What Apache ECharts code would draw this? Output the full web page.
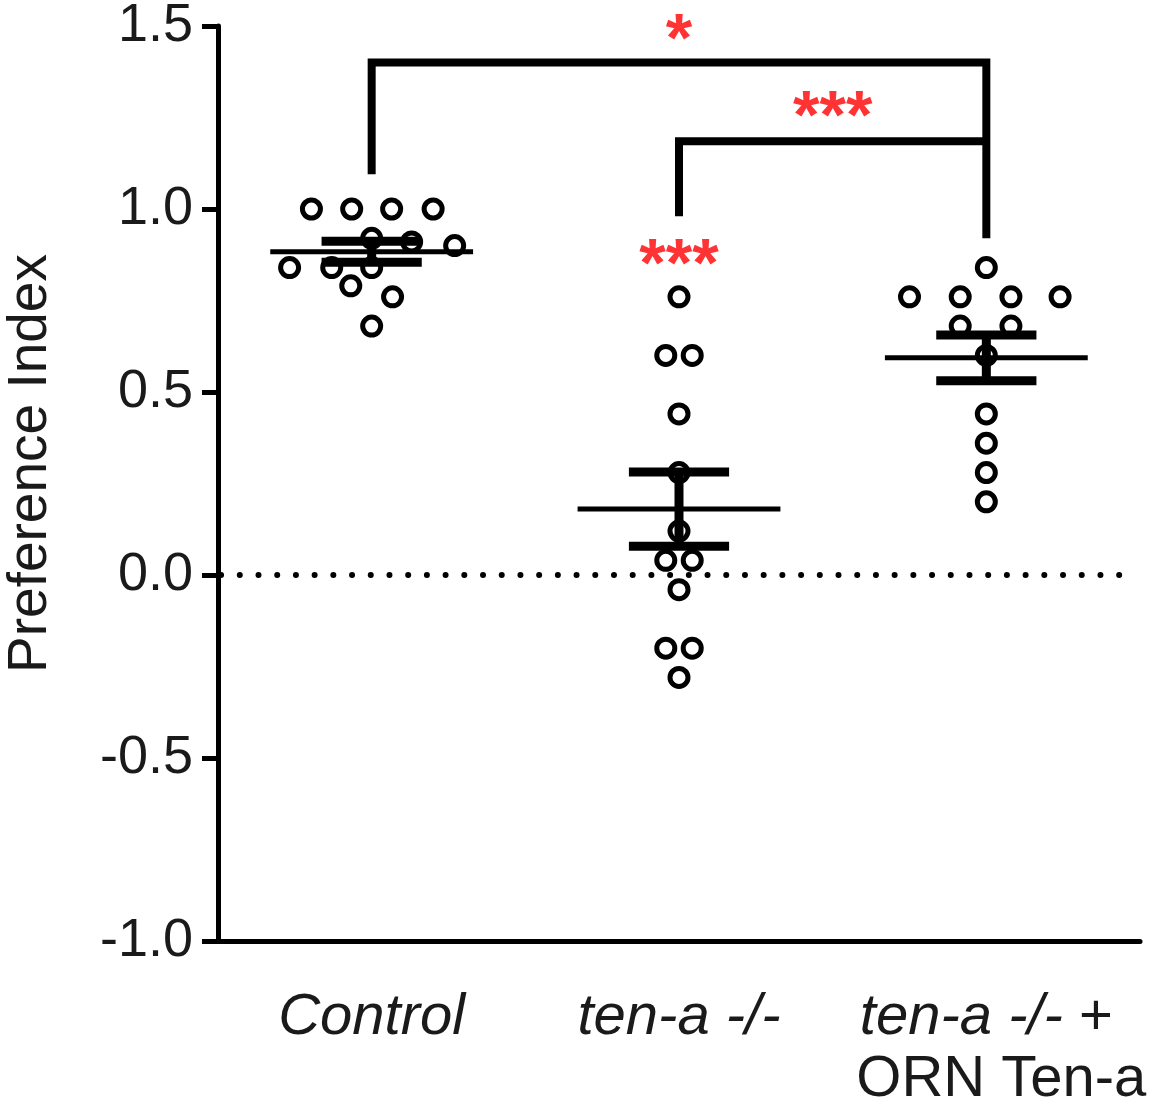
<!DOCTYPE html>
<html>
<head>
<meta charset="utf-8">
<script src="https://cdn.jsdelivr.net/npm/echarts@6/dist/echarts.min.js"></script>
<style>
  html, body { margin: 0; padding: 0; background: #fff; }
  #chart { width: 1149px; height: 1110px; }
</style>
</head>
<body>
<div id="chart"></div>
<script>
// group names on the x axis
var categories = ['Control', 'ten-a -/-', 'ten-a -/- + ORN Ten-a'];

// preference index of each trial, with the horizontal spread of the dots (x units)
var controlPI = [1.0, 1.0, 1.0, 1.0, 0.92, 0.91, 0.90, 0.84, 0.84, 0.84, 0.79, 0.76, 0.68];
var controlX  = [-0.196, -0.065, 0.065, 0.2, 0, 0.13, 0.27, -0.267, -0.13, 0, -0.068, 0.068, 0];
var tenaPI    = [0.76, 0.6, 0.6, 0.44, 0.28, 0.12, 0.04, 0.04, -0.04, -0.2, -0.2, -0.28];
var tenaX     = [0, -0.043, 0.043, 0, 0, 0, -0.043, 0.043, 0, -0.043, 0.043, 0];
var rescuePI  = [0.84, 0.76, 0.76, 0.76, 0.76, 0.68, 0.68, 0.6, 0.44, 0.36, 0.28, 0.2];
var rescueX   = [0, -0.25, -0.085, 0.08, 0.24, -0.085, 0.08, 0, 0, 0, 0, 0];

// significance brackets [group, PI]
var bracketOuter = [[0, 1.095], [0, 1.40], [2, 1.40], [2, 0.92]];
var bracketInner = [[1, 0.98], [1, 1.185], [2, 1.185]];
// significance stars [group, PI, text]
var stars = [[1, 1.455, '*'], [1.5, 1.245, '***'], [1, 0.84, '***']];

var FONT = '"Liberation Sans", Arial, sans-serif';

function stats(arr) {
    var n = arr.length, sum = 0, i;
    for (i = 0; i < n; i++) sum += arr[i];
    var mean = sum / n, ss = 0;
    for (i = 0; i < n; i++) ss += (arr[i] - mean) * (arr[i] - mean);
    return [mean, Math.sqrt(ss / (n - 1)) / Math.sqrt(n)];
}

function dots(pi, xs, g) {
    var out = [];
    for (var i = 0; i < pi.length; i++) out.push([g + xs[i], pi[i]]);
    return out;
}

var groups = [controlPI, tenaPI, rescuePI];
var errData = groups.map(function (arr, g) {
    var s = stats(arr);
    return [g, s[0], s[1]];
});

var chart = echarts.init(document.getElementById('chart'));

var option = {
    animation: false,
    backgroundColor: '#fff',
    grid: { left: 218, right: 9, top: 26, bottom: 169, containLabel: false, outerBoundsMode: 'none' },
    xAxis: [
        {
            type: 'category',
            data: categories,
            boundaryGap: true,
            axisLine: { onZero: false, lineStyle: { color: '#000', width: 5 } },
            axisTick: { show: false },
            axisLabel: {
                interval: 0,
                margin: 46,
                color: '#1a1a1a',
                fontFamily: FONT,
                fontSize: 58,
                lineHeight: 62,
                formatter: function (v, i) {
                    if (i === 2) return '{i|ten-a -/-}{n| +}\n{p|ORN Ten-a}';
                    return '{i|' + v + '}';
                },
                rich: {
                    i: { fontStyle: 'italic', fontFamily: FONT, fontSize: 58, lineHeight: 62, color: '#1a1a1a' },
                    n: { fontFamily: FONT, fontSize: 58, lineHeight: 62, color: '#1a1a1a' },
                    p: { fontFamily: FONT, fontSize: 58, lineHeight: 62, color: '#1a1a1a', padding: [0, 0, 0, 30] }
                }
            }
        },
        {
            type: 'value',
            min: -0.5,
            max: 2.5,
            show: false
        }
    ],
    yAxis: {
        type: 'value',
        min: -1,
        max: 1.5,
        interval: 0.5,
        name: 'Preference Index',
        nameLocation: 'middle',
        nameRotate: 90,
        nameGap: 160,
        nameTextStyle: { fontFamily: FONT, fontSize: 55, color: '#1a1a1a', padding: [0, 0, 0, 40] },
        splitLine: { show: false },
        axisLine: { show: true, onZero: false, lineStyle: { color: '#000', width: 5 } },
        axisTick: { show: true, length: 16, lineStyle: { color: '#000', width: 5 } },
        axisLabel: {
            margin: 25,
            color: '#1a1a1a',
            fontFamily: FONT,
            fontSize: 54,
            formatter: function (v) { return v.toFixed(1); }
        }
    },
    series: [
        {
            // dotted zero line
            type: 'line',
            xAxisIndex: 1,
            data: [[-0.49, 0], [2.46, 0]],
            symbol: 'none',
            lineStyle: { color: '#000', width: 6, type: [0.01, 18.7], cap: 'round' },
            z: 1
        },
        {
            type: 'line',
            xAxisIndex: 1,
            data: bracketOuter,
            symbol: 'none',
            lineStyle: { color: '#000', width: 8, join: 'miter', cap: 'butt' },
            z: 2
        },
        {
            type: 'line',
            xAxisIndex: 1,
            data: bracketInner,
            symbol: 'none',
            lineStyle: { color: '#000', width: 8, join: 'miter', cap: 'butt' },
            z: 2
        },
        {
            // mean and SEM
            type: 'custom',
            xAxisIndex: 1,
            data: errData,
            z: 3,
            renderItem: function (params, api) {
                var x = api.value(0), m = api.value(1), s = api.value(2);
                var a = api.coord([x - 0.33, m]), b = api.coord([x + 0.33, m]);
                var t = api.coord([x, m + s]), d = api.coord([x, m - s]);
                var tl = api.coord([x - 0.163, m + s]), tr = api.coord([x + 0.163, m + s]);
                var dl = api.coord([x - 0.163, m - s]), dr = api.coord([x + 0.163, m - s]);
                var st = { stroke: '#000', lineWidth: 5, fill: null };
                var st2 = { stroke: '#000', lineWidth: 9, fill: null };
                return {
                    type: 'group',
                    children: [
                        { type: 'line', shape: { x1: a[0], y1: a[1], x2: b[0], y2: b[1] }, style: st },
                        { type: 'line', shape: { x1: t[0], y1: t[1], x2: d[0], y2: d[1] }, style: st2 },
                        { type: 'line', shape: { x1: tl[0], y1: tl[1], x2: tr[0], y2: tr[1] }, style: st2 },
                        { type: 'line', shape: { x1: dl[0], y1: dl[1], x2: dr[0], y2: dr[1] }, style: st2 }
                    ]
                };
            }
        },
        {
            type: 'scatter',
            xAxisIndex: 1,
            data: dots(controlPI, controlX, 0).concat(dots(tenaPI, tenaX, 1), dots(rescuePI, rescueX, 2)),
            symbol: 'circle',
            symbolSize: 18,
            itemStyle: { color: 'rgba(0,0,0,0)', borderColor: '#000', borderWidth: 5, opacity: 1 },
            z: 4
        },
        {
            type: 'scatter',
            xAxisIndex: 1,
            data: stars,
            symbolSize: 0,
            label: {
                show: true,
                position: 'inside',
                formatter: function (p) { return p.value[2]; },
                color: '#ff0000',
                fontFamily: FONT,
                fontWeight: 'bold',
                fontSize: 68
            },
            z: 5
        }
    ]
};

chart.setOption(option);
</script>
</body>
</html>
